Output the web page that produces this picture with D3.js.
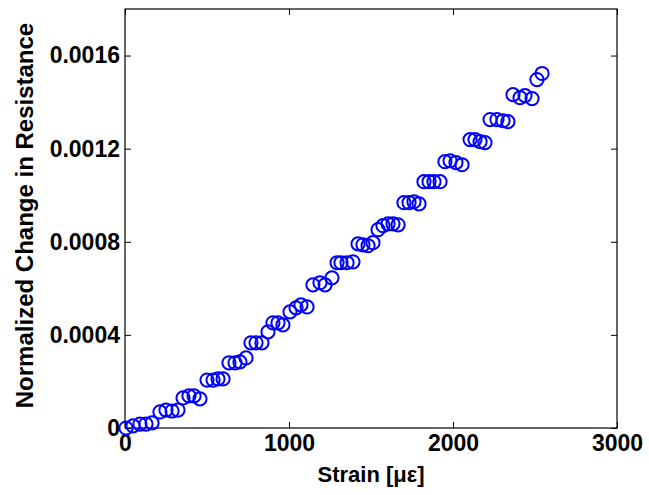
<!DOCTYPE html>
<html>
<head>
<meta charset="utf-8">
<script src="https://cdn.jsdelivr.net/npm/d3@7"></script>
<style>
  body { margin: 0; background: #fff; }
  svg { display: block; }
  text { font-family: "Liberation Sans", Arial, Helvetica, sans-serif; font-weight: bold; fill: #000; }
</style>
</head>
<body>
<svg id="chart" width="649" height="495"></svg>
<script>
// Data
const strain = [6, 49, 91, 128, 165, 213, 250, 287, 323, 354, 390, 421, 457, 500, 537, 567, 598,
  634, 671, 701, 738, 768, 799, 835, 872, 902, 933, 963, 1006, 1043, 1073, 1110, 1146, 1189, 1220,
  1262, 1293, 1317, 1354, 1390, 1421, 1451, 1482, 1512, 1543, 1573, 1604, 1634, 1665, 1701, 1732,
  1762, 1793, 1823, 1854, 1884, 1921, 1951, 1982, 2018, 2055, 2104, 2134, 2165, 2195, 2226, 2268,
  2305, 2335, 2366, 2409, 2439, 2482, 2512, 2543];
const resistance = [0, 0.000009, 0.000017, 0.000017, 0.000022, 0.000069, 0.000077, 0.000073, 0.000077,
  0.000129, 0.000138, 0.000138, 0.000125, 0.000206, 0.000206, 0.000211, 0.000211,
  0.000280, 0.000280, 0.000284, 0.000301, 0.000366, 0.000366, 0.000366, 0.000413,
  0.000452, 0.000452, 0.000443, 0.000499, 0.000516, 0.000529, 0.000520,
  0.000615, 0.000624, 0.000615, 0.000645, 0.000710, 0.000710, 0.000710, 0.000714,
  0.000791, 0.000787, 0.000783, 0.000796, 0.000852, 0.000869, 0.000877, 0.000877, 0.000873,
  0.000968, 0.000968, 0.000972, 0.000963, 0.001058, 0.001058, 0.001058, 0.001058,
  0.001144, 0.001148, 0.001140, 0.001131, 0.001239, 0.001239, 0.001230, 0.001226,
  0.001325, 0.001325, 0.001320, 0.001316, 0.001432, 0.001419, 0.001428, 0.001415,
  0.001497, 0.001523];
const xTicks = [0, 1000, 2000, 3000];
const yTicks = [0, 0.0004, 0.0008, 0.0012, 0.0016];
const yTickLabels = ["0", "0.0004", "0.0008", "0.0012", "0.0016"];
const xTitle = "Strain [\u03bc\u03b5]";
const yTitle = "Normalized Change in Resistance";

const W = 649, H = 495;
const m = { left: 125, top: 9, right: 32, bottom: 67 };
const iw = W - m.left - m.right, ih = H - m.top - m.bottom;

const svg = d3.select("#chart");
const g = svg.append("g").attr("transform", `translate(${m.left},${m.top})`);

const x = d3.scaleLinear().domain([0, 3000]).range([0, iw]);
const y = d3.scaleLinear().domain([0, 0.0018]).range([ih, 0]);

const tickLen = 6;
const fs = 23;

// bottom axis
const gx = g.append("g").attr("transform", `translate(0,${ih})`)
  .call(d3.axisBottom(x).tickValues(xTicks).tickFormat(d3.format("d"))
    .tickSizeInner(-tickLen).tickSizeOuter(0).tickPadding(7));
// top axis (ticks only)
const gxt = g.append("g")
  .call(d3.axisTop(x).tickValues(xTicks).tickFormat("").tickSizeInner(-tickLen).tickSizeOuter(0));
// left axis
const gy = g.append("g")
  .call(d3.axisLeft(y).tickValues(yTicks).tickFormat((d, i) => yTickLabels[i])
    .tickSizeInner(-tickLen).tickSizeOuter(0).tickPadding(5));
// right axis (ticks only)
const gyr = g.append("g").attr("transform", `translate(${iw},0)`)
  .call(d3.axisRight(y).tickValues(yTicks).tickFormat("").tickSizeInner(-tickLen).tickSizeOuter(0));

[gx, gxt, gy, gyr].forEach(a => {
  a.select(".domain").remove();
  a.selectAll(".tick line").attr("stroke", "#000").attr("stroke-width", 1);
  a.selectAll("text").style("font-size", fs + "px").style("font-family", "'Liberation Sans', Arial, sans-serif")
    .style("font-weight", "bold").attr("fill", "#000");
});

// frame
g.append("rect").attr("x", 0).attr("y", 0).attr("width", iw).attr("height", ih)
  .attr("fill", "none").attr("stroke", "#000").attr("stroke-width", 1.2);

// points
g.append("g").selectAll("circle")
  .data(strain.map((s, i) => [s, resistance[i]]))
  .join("circle")
  .attr("cx", d => x(d[0]))
  .attr("cy", d => y(d[1]))
  .attr("r", 6.6)
  .attr("fill", "none")
  .attr("stroke", "#0000ff")
  .attr("stroke-width", 2);

// axis titles
svg.append("text")
  .attr("x", m.left + iw / 2).attr("y", 482)
  .attr("text-anchor", "middle").style("font-size", "22px")
  .text(xTitle);

svg.append("text")
  .attr("transform", `translate(33,${m.top + ih / 2 - 3}) rotate(-90)`)
  .attr("text-anchor", "middle").style("font-size", "24px")
  .text(yTitle);
</script>
</body>
</html>
